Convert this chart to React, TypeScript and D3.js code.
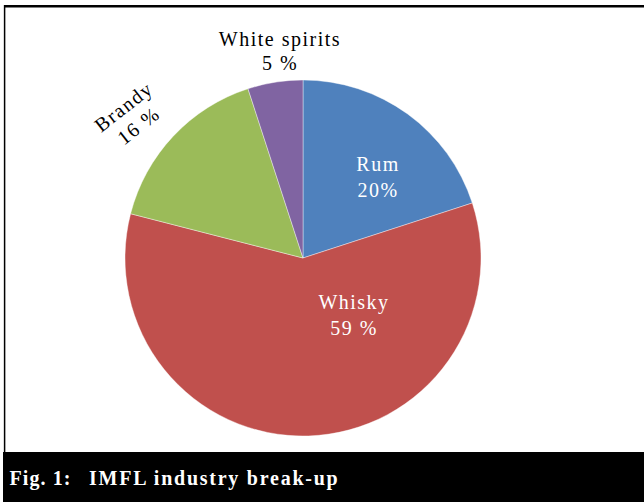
import React from "react";
import * as d3 from "d3";

const categories = ["Rum", "Whisky", "Brandy", "White spirits"];
const values = [20, 59, 16, 5];
const valueLabels = ["20%", "59 %", "16 %", "5 %"];
const colors = ["#4F81BD", "#C0504D", "#9BBB59", "#8064A2"];
const captionLead = "Fig. 1:";
const captionText = "IMFL industry break-up";

// label layout: [x, y of first baseline, rotation, color, line gap]
const labelLayout: [number, number, number, string, number][] = [
  [378, 171, 0, "#ffffff", 26],
  [354, 309, 0, "#ffffff", 26],
  [0, 0, -38, "#000000", 24],
  [280, 46, 0, "#000000", 24],
];

const W = 644;
const H = 502;
const cx = 303;
const cy = 258;
const R = 178;

export default function App() {
  const pie = d3.pie<number>().sort(null).startAngle(0).endAngle(2 * Math.PI);
  const arcs = pie(values);
  const arc = d3.arc<d3.PieArcDatum<number>>().innerRadius(0).outerRadius(R);
  const font = "Liberation Serif, Tinos, Times New Roman, Times, serif";

  return (
    <svg
      width={W}
      height={H}
      style={{ position: "absolute", left: 0, top: 0, background: "#fff", fontFamily: font }}
    >
      <rect x={0} y={0} width={W} height={H} fill="#fff" />
      <line x1={4} x2={W} y1={6.2} y2={6.2} stroke="#000" strokeWidth={2.5} />
      <line x1={4.6} x2={4.6} y1={5} y2={453} stroke="#000" strokeWidth={1.5} />
      <g transform={`translate(${cx},${cy})`}>
        {arcs.map((a, i) => (
          <path key={categories[i]} d={arc(a) || ""} fill={colors[i]} stroke="#ffffff" strokeWidth={0.4} />
        ))}
      </g>
      {categories.map((c, i) => {
        const [lx, ly, rot, col, gap] = labelLayout[i];
        if (rot !== 0) {
          return (
            <g key={c} transform={`translate(131,116) rotate(${rot})`} fill={col} style={{ fontFamily: font }} fontSize={20} letterSpacing={1.5} textAnchor="middle">
              <text x={0} y={-5}>{c}</text>
              <text x={0} y={-5 + gap}>{valueLabels[i]}</text>
            </g>
          );
        }
        return (
          <g key={c} fill={col} style={{ fontFamily: font }} fontSize={20} letterSpacing={1.5} textAnchor="middle">
            <text x={lx} y={ly}>{c}</text>
            <text x={lx} y={ly + gap}>{valueLabels[i]}</text>
          </g>
        );
      })}
      <rect x={3} y={452} width={W - 3} height={H - 452} fill="#000" />
      <text x={9.5} y={485} fill="#fff" style={{ fontFamily: font }} fontWeight="bold" fontSize={20} letterSpacing={1.1}>
        {captionLead}
      </text>
      <text x={89} y={485} fill="#fff" style={{ fontFamily: font }} fontWeight="bold" fontSize={20} letterSpacing={1.75}>
        {captionText}
      </text>
    </svg>
  );
}
